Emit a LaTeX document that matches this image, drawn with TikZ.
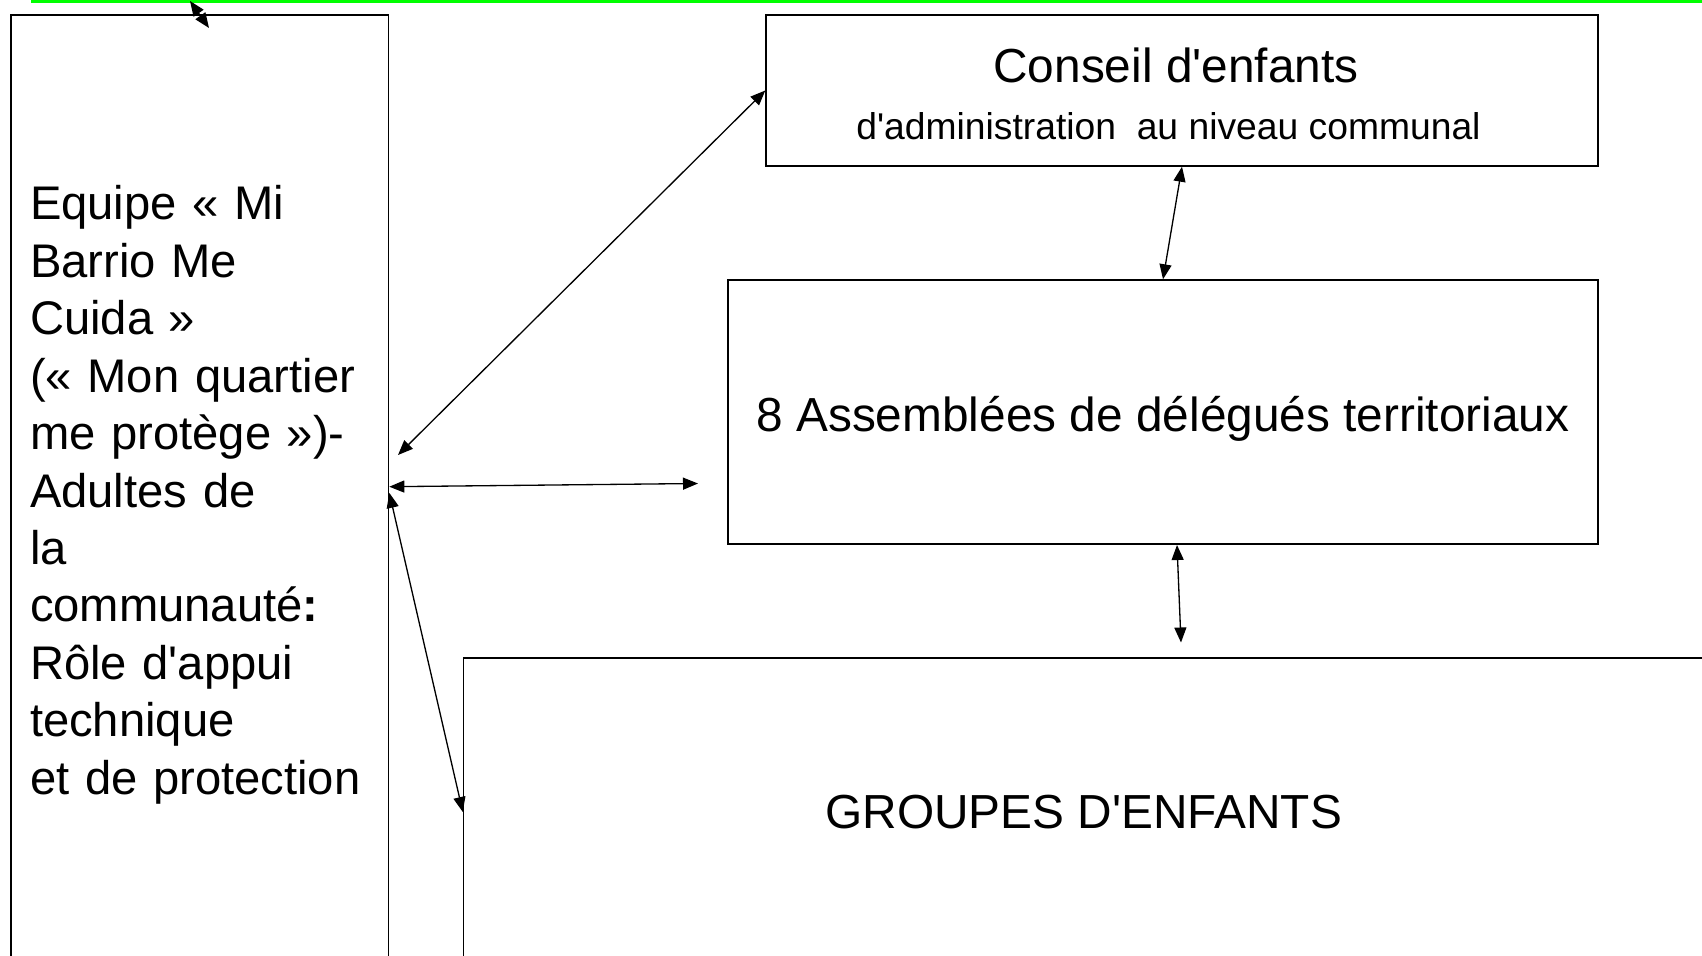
\documentclass[tikz,border=0pt]{standalone}
\usepackage{fontspec}
\setmainfont{Liberation Sans}
\usetikzlibrary{arrows.meta}

\begin{document}
\begin{tikzpicture}[>={Triangle[length=0.3cm,width=0.24cm]}]

      \useasboundingbox (0,0) rectangle (34.04,-19.12);
      \draw[green, line width=1.7pt] (0.62,-0.03) -- (34.2,-0.03);

      \begin{scope}[every node/.style={draw,rectangle,line width=0.8pt,inner sep=0pt,
          font=\fontsize{27.2}{32.7}\selectfont}]
        \node[minimum width=7.554cm, minimum height=19.194cm, text width=6.79cm, align=left,
          font=\fontsize{26.85}{32.7}\selectfont]
          (equipe) at (3.995,-9.897) {Equipe « Mi\\Barrio Me\\Cuida »\\(« Mon quartier\\me protège »)-\\Adultes de\\la\\communauté\textbf{:}\\Rôle d\textquotesingle appui\\technique\\et de protection};
        \node[minimum width=16.64cm, minimum height=3.02cm, align=center]
          (conseil) at (23.64,-1.81) {\raisebox{-0.065cm}[\height][\depth]{Conseil d\textquotesingle enfants\hspace*{0.24cm}}\\\raisebox{-0.065cm}[\height][\depth]{\fontsize{21.2}{32.7}\selectfont d\textquotesingle administration\ \ au niveau communal\hspace*{0.54cm}}};
        \node[minimum width=17.40cm, minimum height=5.28cm]
          (assemblees) at (23.26,-8.24) {\raisebox{-0.13cm}[\height][\depth]{8 Assemblées de délégués territoriaux}};
        \node[minimum width=24.81cm, minimum height=6.16cm]
          (groupes) at (21.675,-16.24) {GROUPES D\textquotesingle ENFANTS};
      \end{scope}

      \coordinate (topA) at (3.80,-0.02);
      \coordinate (topB) at (4.18,-0.56);
      \coordinate (equipeA) at (7.96,-9.10);
      \coordinate (assemA) at (13.96,-9.67);
      \coordinate (assemB) at (23.54,-10.90);
      \coordinate (groupesA) at (23.62,-12.85);

      \begin{scope}[every edge/.style={draw,<->,line width=0.75pt}]
        \path (topA)  edge (topB);
        \path (equipeA)  edge (conseil.west);
        \path ([yshift=0.163cm]equipe.east)  edge (assemA);
        \path ([yshift=0.04cm]equipe.east)  edge (groupes.west);
        \path (conseil.south)  edge (assemblees.north);
        \path (assemB)  edge (groupesA);
      \end{scope}

    \end{tikzpicture}
\end{document}
